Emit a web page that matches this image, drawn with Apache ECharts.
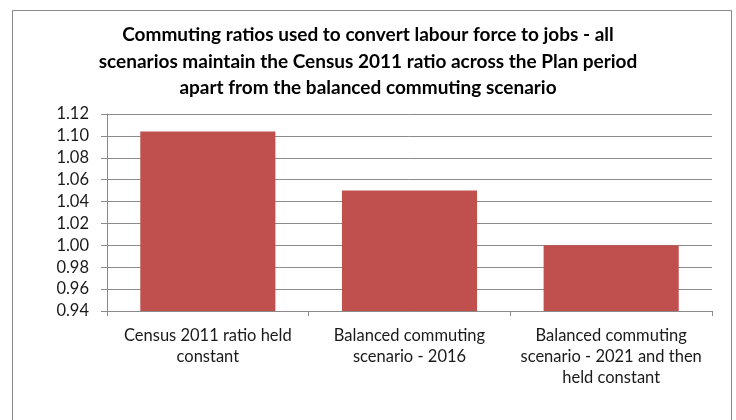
<!DOCTYPE html>
<html>
<head>
<meta charset="utf-8">
<script src="https://cdn.jsdelivr.net/npm/echarts@6/dist/echarts.min.js"></script>
<style>
  html, body { margin: 0; padding: 0; background: #ffffff; }
  #chart { width: 736px; height: 420px; }
</style>
</head>
<body>
<div id="chart"></div>
<script>
// Commuting ratio per scenario
const categories = [
  'Census 2011 ratio held\nconstant',
  'Balanced commuting\nscenario - 2016',
  'Balanced commuting\nscenario - 2021 and then\nheld constant'
];
const ratios = [1.104, 1.05, 1.00];
const yTicks = { min: 0.94, max: 1.12, step: 0.02 };

const titleText = 'Commuting ratios used to convert labour force to jobs - all\n' +
  'scenarios maintain the Census 2011 ratio across the Plan period\n' +
  'apart from the balanced commuting scenario';

const chart = echarts.init(document.getElementById('chart'), null, { renderer: 'canvas' });
const font = 'Lato, "Open Sans", sans-serif';

chart.setOption({
  animation: false,
  backgroundColor: '#ffffff',
  graphic: [{
    type: 'rect',
    shape: { x: 12.5, y: 10.5, width: 719, height: 430 },
    style: { fill: 'none', stroke: '#8a8a8a', lineWidth: 1 },
    silent: true,
    z: -1
  }],
  title: {
    text: titleText,
    left: 368,
    top: 22,
    padding: 0,
    textAlign: 'center',
    textStyle: {
      fontFamily: font,
      fontWeight: 'bold',
      fontSize: 19,
      lineHeight: 26.5,
      color: '#000000'
    }
  },
  grid: { left: 107, right: 24, top: 114, bottom: 109, containLabel: false },
  xAxis: {
    type: 'category',
    data: categories,
    boundaryGap: true,
    axisLine: { lineStyle: { color: '#8a8a8a', width: 1 } },
    axisTick: { show: true, length: 5, lineStyle: { color: '#8a8a8a' } },
    axisLabel: {
      interval: 0,
      margin: 14,
      fontFamily: font,
      fontSize: 16.5,
      lineHeight: 21,
      color: '#1a1a1a',
      align: 'center'
    }
  },
  yAxis: {
    type: 'value',
    min: yTicks.min,
    max: yTicks.max,
    interval: yTicks.step,
    axisLine: { show: true, lineStyle: { color: '#8a8a8a', width: 1 } },
    axisTick: { show: true, length: 6, lineStyle: { color: '#8a8a8a' } },
    splitLine: { show: true, lineStyle: { color: '#8a8a8a', width: 1 } },
    axisLabel: {
      margin: 18,
      fontFamily: font,
      fontSize: 16.5,
      color: '#1a1a1a',
      formatter: v => v.toFixed(2)
    }
  },
  series: [{
    type: 'bar',
    data: ratios,
    barWidth: '67%',
    itemStyle: { color: '#C0504D' }
  }]
});
</script>
</body>
</html>
